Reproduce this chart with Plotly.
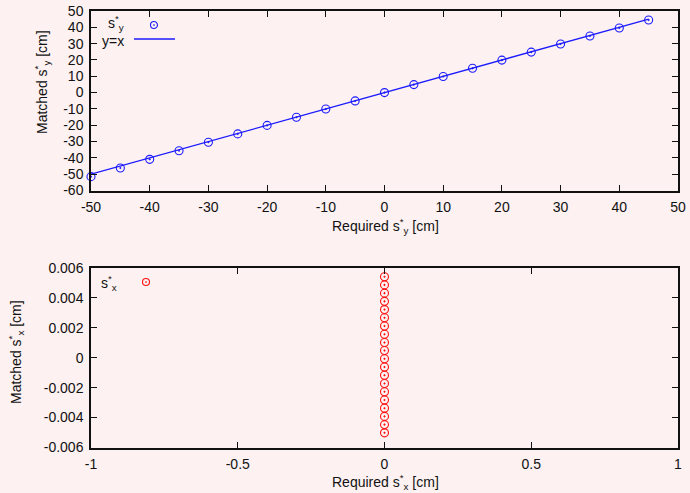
import plotly.graph_objects as go

# ---- data ----
required_sy = [-50, -45, -40, -35, -30, -25, -20, -15, -10, -5,
               0, 5, 10, 15, 20, 25, 30, 35, 40, 45]
matched_sy = [-51.5, -46.2, -40.9, -35.6, -30.4, -25.3, -20.1, -15.1, -10.1, -5.1,
              0.0, 4.9, 9.9, 14.9, 19.9, 24.8, 29.8, 34.7, 39.6, 44.5]

required_sx = [0.0] * 20
matched_sx = [0.00542, 0.00487, 0.00432, 0.00377, 0.00322, 0.00267, 0.00212, 0.00157,
              0.00102, 0.00048, -0.00007, -0.00062, -0.00117, -0.00172, -0.00227,
              -0.00282, -0.00337, -0.00392, -0.00447, -0.00502]

top_yticks = [-60, -50, -40, -30, -20, -10, 0, 10, 20, 30, 40, 50]
top_ylabels = ["-60", "-50", "-40", "-30", "-20", "-10", "0", "10", "20", "30", "40", "50"]
top_xticks = [-50, -40, -30, -20, -10, 0, 10, 20, 30, 40, 50]
top_xlabels = ["-50", "-40", "-30", "-20", "-10", "0", "10", "20", "30", "40", "50"]
bot_xticks = [-1, -0.5, 0, 0.5, 1]
bot_xlabels = ["-1", "-0.5", "0", "0.5", "1"]
bot_yticks = [-0.006, -0.004, -0.002, 0, 0.002, 0.004, 0.006]
bot_ylabels = ["-0.006", "-0.004", "-0.002", "0", "0.002", "0.004", "0.006"]

# ---- style ----
W, H = 690, 493
BG = "#fdf1f1"
BLUE = "#1a1aff"
RED = "#ff1010"
FONT = dict(family="Liberation Sans, Arial, sans-serif", size=14, color="#111111")

def px_x(p):
    return p / W

def px_y(p):
    return 1 - p / H

fig = go.Figure()

fig.add_trace(go.Scatter(
    x=required_sy, y=required_sy, mode="lines", xaxis="x", yaxis="y",
    line=dict(color=BLUE, width=1.3), showlegend=False, cliponaxis=False))
fig.add_trace(go.Scatter(
    x=required_sy, y=matched_sy, mode="markers", xaxis="x", yaxis="y",
    marker=dict(symbol="circle-open-dot", size=8, color=BLUE, line=dict(width=1.1, color=BLUE)),
    showlegend=False, cliponaxis=False))
fig.add_trace(go.Scatter(
    x=required_sx, y=matched_sx, mode="markers", xaxis="x2", yaxis="y2",
    marker=dict(symbol="circle-open-dot", size=8, color=RED, line=dict(width=1.1, color=RED)),
    showlegend=False, cliponaxis=False))

axis_common = dict(
    showline=True, linecolor="#111111", linewidth=1.5, mirror="allticks",
    ticks="inside", ticklen=6, tickwidth=1.2, tickcolor="#111111",
    showgrid=False, zeroline=False, tickfont=FONT, automargin=False,
    ticklabelstandoff=3,
)

xdom = [px_x(91), px_x(678)]
fig.update_layout(
    width=W, height=H, paper_bgcolor=BG, plot_bgcolor=BG,
    margin=dict(l=0, r=0, t=0, b=0, autoexpand=False), font=FONT, showlegend=False,
    xaxis=dict(domain=xdom, range=[-50, 50], tickvals=top_xticks, ticktext=top_xlabels,
               anchor="y", **axis_common),
    yaxis=dict(domain=[px_y(190.5), px_y(11)], range=[-60, 50], tickvals=top_yticks,
               ticktext=top_ylabels, anchor="x", **axis_common),
    xaxis2=dict(domain=xdom, range=[-1, 1], tickvals=bot_xticks, ticktext=bot_xlabels,
                anchor="y2", **axis_common),
    yaxis2=dict(domain=[px_y(447.5), px_y(268)], range=[-0.006, 0.006], tickvals=bot_yticks,
                ticktext=bot_ylabels, anchor="x2", **axis_common),
)

# axis titles
annotations = [
    dict(text="Required s<sup>*</sup><sub>y</sub> [cm]", x=px_x(385), y=px_y(226)),
    dict(text="Required s<sup>*</sup><sub>x</sub> [cm]", x=px_x(385), y=px_y(482)),
    dict(text="Matched s<sup>*</sup><sub>y</sub> [cm]", x=px_x(42), y=px_y(82), textangle=-90),
    dict(text="Matched s<sup>*</sup><sub>x</sub> [cm]", x=px_x(16), y=px_y(352), textangle=-90),
]
# key entries (text right-aligned, sample to the right)
annotations += [
    dict(text="s<sup>*</sup><sub>y</sub>", x=px_x(126), y=px_y(23), xanchor="right"),
    dict(text="y=x", x=px_x(126), y=px_y(41), xanchor="right"),
    dict(text="s<sup>*</sup><sub>x</sub>", x=px_x(119), y=px_y(283), xanchor="right"),
]
for a in annotations:
    a.setdefault("xanchor", "center")
    fig.add_annotation(xref="paper", yref="paper", yanchor="middle", showarrow=False,
                       font=FONT, **a)

def key_marker(cx, cy, color):
    r = 3.5
    fig.add_shape(type="circle", xref="paper", yref="paper",
                  xsizemode="pixel", ysizemode="pixel",
                  xanchor=px_x(cx), yanchor=px_y(cy), x0=-r, x1=r, y0=-r, y1=r,
                  line=dict(color=color, width=1.1))
    fig.add_shape(type="circle", xref="paper", yref="paper",
                  xsizemode="pixel", ysizemode="pixel",
                  xanchor=px_x(cx), yanchor=px_y(cy), x0=-0.6, x1=0.6, y0=-0.6, y1=0.6,
                  fillcolor=color, line=dict(color=color, width=0.5))

key_marker(154, 25, BLUE)
key_marker(146, 282, RED)
fig.add_shape(type="line", xref="paper", yref="paper",
              x0=px_x(134), x1=px_x(175), y0=px_y(39), y1=px_y(39),
              line=dict(color=BLUE, width=1.3))

fig.write_html("out.html")
